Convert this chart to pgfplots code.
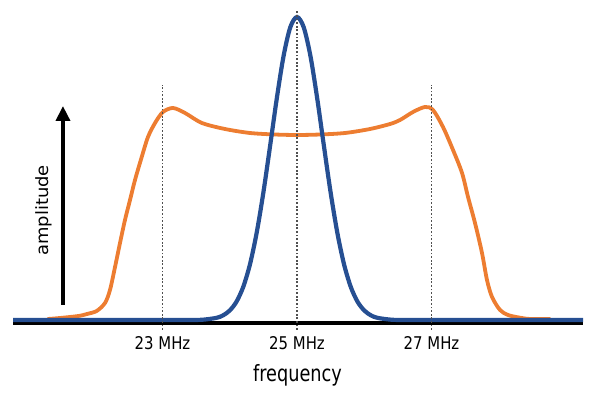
\documentclass[border=0pt]{standalone}
\usepackage{fontspec}
\setmainfont{DejaVu Sans}
\newfontfamily\tickfont{DejaVu Sans}[FakeStretch=0.85]
\newfontfamily\labfont{DejaVu Sans}[FakeStretch=0.79]
\newfontfamily\ampfont{DejaVu Sans}[FakeStretch=1.06]
\usepackage{pgfplots}
\pgfplotsset{compat=1.18}
\usetikzlibrary{arrows.meta}
\definecolor{sigorange}{RGB}{237,125,49}
\definecolor{sigblue}{RGB}{38,79,146}
\definecolor{dotgray}{RGB}{80,80,80}
\begin{document}
\begin{tikzpicture}
\path[use as bounding box] (0,0) rectangle (600bp,395bp);
\begin{axis}[
  at={(0,0)}, anchor=south west,
  scale only axis, width=600bp, height=395bp,
  xmin=20.5836, xmax=29.5056, ymin=-73, ymax=322,
  axis x line=middle, axis y line=none,
  axis line style={draw=none},
  xtick={23,25,27},
  xticklabels={\mbox{\tickfont 23 MHz},\mbox{\tickfont 25 MHz},\mbox{\tickfont 27 MHz}},
  major tick length=0pt,
  xticklabel style={font=\tickfont\fontsize{17.6}{20}\selectfont, anchor=base, yshift=-28bp, inner sep=0pt},
  xlabel={frequency},
  xlabel style={at={(axis cs:25.007,-60)}, anchor=base, inner sep=0pt, font=\labfont\fontsize{22.5}{26}\selectfont},
  clip=false,
]
% baseline
\draw[black, line width=4.5bp] (axis cs:20.777,-1) -- (axis cs:29.253,-1);
% orange flat-top spectrum
\addplot[sigorange, line width=3.8bp, smooth, tension=0.5, line cap=round] coordinates {
(21.297,3) (21.476,4) (21.75,6) (21.877,8) (22.021,11) (22.145,19) (22.219,32)
(22.294,55) (22.368,79) (22.442,102) (22.517,122) (22.591,142) (22.691,165)
(22.784,185) (22.889,199) (23.007,210) (23.156,214) (23.335,209) (23.587,199)
(23.929,193) (24.301,189) (24.673,187.5) (25.0,187) (25.342,187.5) (25.714,189)
(26.086,193) (26.383,198) (26.532,202) (26.725,210) (26.903,215) (27.022,212)
(27.171,195) (27.320,172) (27.454,149) (27.543,125) (27.647,99) (27.751,69)
(27.825,42) (27.900,25) (28.019,12) (28.138,7) (28.3,4.5) (28.465,3) (28.762,3)
};
% blue narrow peak
\addplot[sigblue, line width=4.2bp, smooth, tension=0.5] coordinates {
(20.777,2) (23.0,2) (23.4,2) (23.6,2.3) (23.8,4.1) (23.9,6.6) (24.0,11.5)
(24.1,20.3) (24.2,35.0) (24.3,57.5) (24.4,89.1) (24.5,129.5) (24.6,176.1)
(24.7,223.8) (24.8,265.9) (24.9,294.7) (25.0,305) (25.1,294.7) (25.2,265.9)
(25.3,223.8) (25.4,176.1) (25.5,129.5) (25.6,89.1) (25.7,57.5) (25.8,35.0)
(25.9,20.3) (26.0,11.5) (26.1,6.6) (26.2,4.1) (26.4,2.3) (26.6,2) (27.0,2) (29.253,2)
};
% dotted guide lines
\draw[dotgray, line width=1.2bp, dash pattern=on 1.8bp off 1.8bp] (axis cs:23,-8) -- (axis cs:23,237);
\draw[dotgray, line width=1.2bp, dash pattern=on 1.8bp off 1.8bp] (axis cs:25,-8) -- (axis cs:25,312);
\draw[dotgray, line width=1.2bp, dash pattern=on 1.8bp off 1.8bp] (axis cs:27,-8) -- (axis cs:27,237);
% amplitude arrow and label
\draw[black, line width=3.6bp, -{Triangle[width=14bp,length=15bp]}] (axis cs:21.520,17) -- (axis cs:21.520,216);
\node[rotate=90, anchor=center, inner sep=0pt, font=\ampfont\fontsize{17}{20}\selectfont] at (axis cs:21.242,111.5) {amplitude};
\end{axis}
\end{tikzpicture}
\end{document}
